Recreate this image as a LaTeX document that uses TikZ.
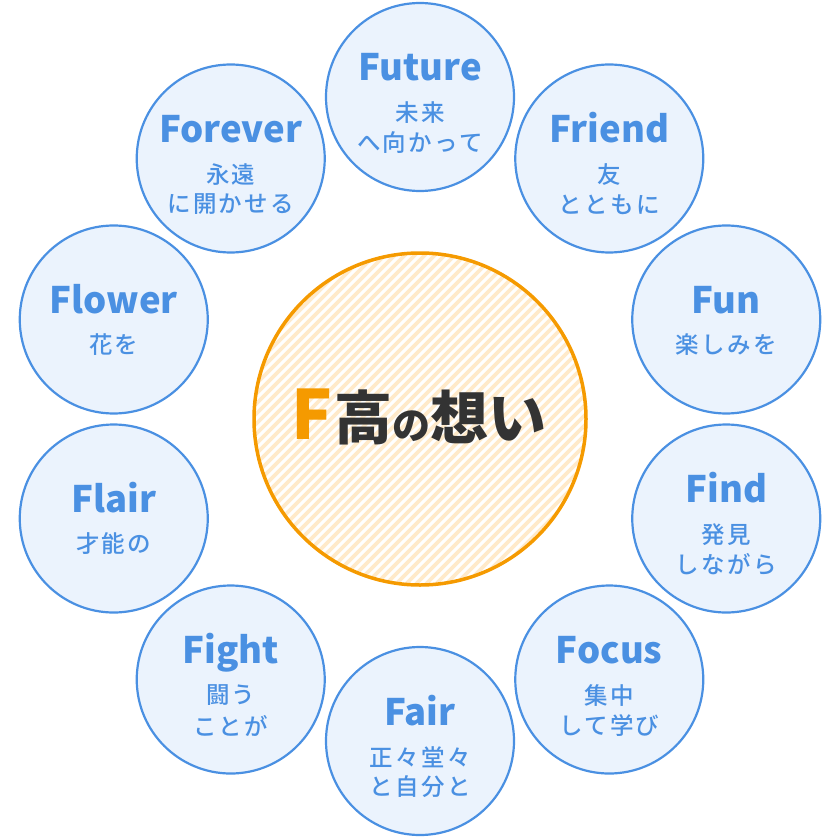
\documentclass[tikz,border=0pt]{standalone}
\usepackage{fontspec}
\setmainfont{Noto Sans CJK JP}
\newfontfamily\jp{Noto Sans CJK JP}
\newfontfamily\jpsp[LetterSpace=10]{Noto Sans CJK JP Medium}
\usetikzlibrary{calc}
\definecolor{bblue}{HTML}{4A90E2}
\definecolor{bfill}{HTML}{EBF3FD}
\definecolor{oborder}{HTML}{F59A00}
\definecolor{ohatch}{HTML}{FFEACA}
\definecolor{dtext}{HTML}{333333}
\tikzset{
  bub/.style={circle, draw=bblue, fill=bfill, line width=2.2pt, minimum size=188pt, inner sep=0pt},
  ttl/.style={text=bblue, font=\jp\bfseries\fontsize{36.5}{36.5}\selectfont, anchor=base, inner sep=0pt},
  subl/.style={text=bblue, font=\jpsp\fontsize{23.5}{23.5}\selectfont, inner sep=0pt},
}
\begin{document}
\begin{tikzpicture}[x=1pt,y=-1pt]
\useasboundingbox (0,0) rectangle (840,840);
% core circle
\node[circle, minimum size=332pt, inner sep=0pt] (core) at (420,419) {};
\begin{scope}
  \clip (core.center) circle (166pt);
  \fill[white] (core.center) circle (166pt);
  \foreach \c in {500,510,...,1190}
    \draw[ohatch, line width=3.8pt] (\c-240,240) -- (\c-600,600);
\end{scope}
\draw[oborder, line width=3.5pt] (core.center) circle (166pt);
\node[inner sep=0pt, anchor=base] (ctitle) at (419,439)
  {\bfseries\fontsize{68}{68}\selectfont\textcolor{oborder}{F}\hspace{2pt}\textcolor{dtext}{\fontsize{58}{58}\selectfont 高\fontsize{38}{38}\selectfont の\fontsize{58}{58}\selectfont 想い}};
% two-line bubbles
\foreach \a/\n/\t/\la/\lb in {90/future/Future/未来/へ向かって, 54/friend/Friend/友/とともに, -18/find/Find/発見/しながら, -54/focus/Focus/集中/して学び, -90/fair/Fair/正々堂々/と自分と, -126/fight/Fight/闘う/ことが, 126/forever/Forever/永遠/に開かせる}{
  \node[bub] (\n) at ({420+322*cos(\a)},{419-322*sin(\a)}) {};
  \node[ttl] (\n-t) at ($(\n.center)+(0,-16)$) {\t};
  \node[subl] (\n-a) at ($(\n.center)+(0,16)$) {\la};
  \node[subl] (\n-b) at ($(\n.center)+(0,46)$) {\lb};
}
% one-line bubbles
\foreach \a/\n/\t/\la in {18/fun/Fun/楽しみを, 162/flower/Flower/花を, 198/flair/Flair/才能の}{
  \node[bub] (\n) at ({420+322*cos(\a)},{419-322*sin(\a)}) {};
  \node[ttl] (\n-t) at ($(\n.center)+(0,-6)$) {\t};
  \node[subl] (\n-a) at ($(\n.center)+(0,25)$) {\la};
}
\end{tikzpicture}
\end{document}
